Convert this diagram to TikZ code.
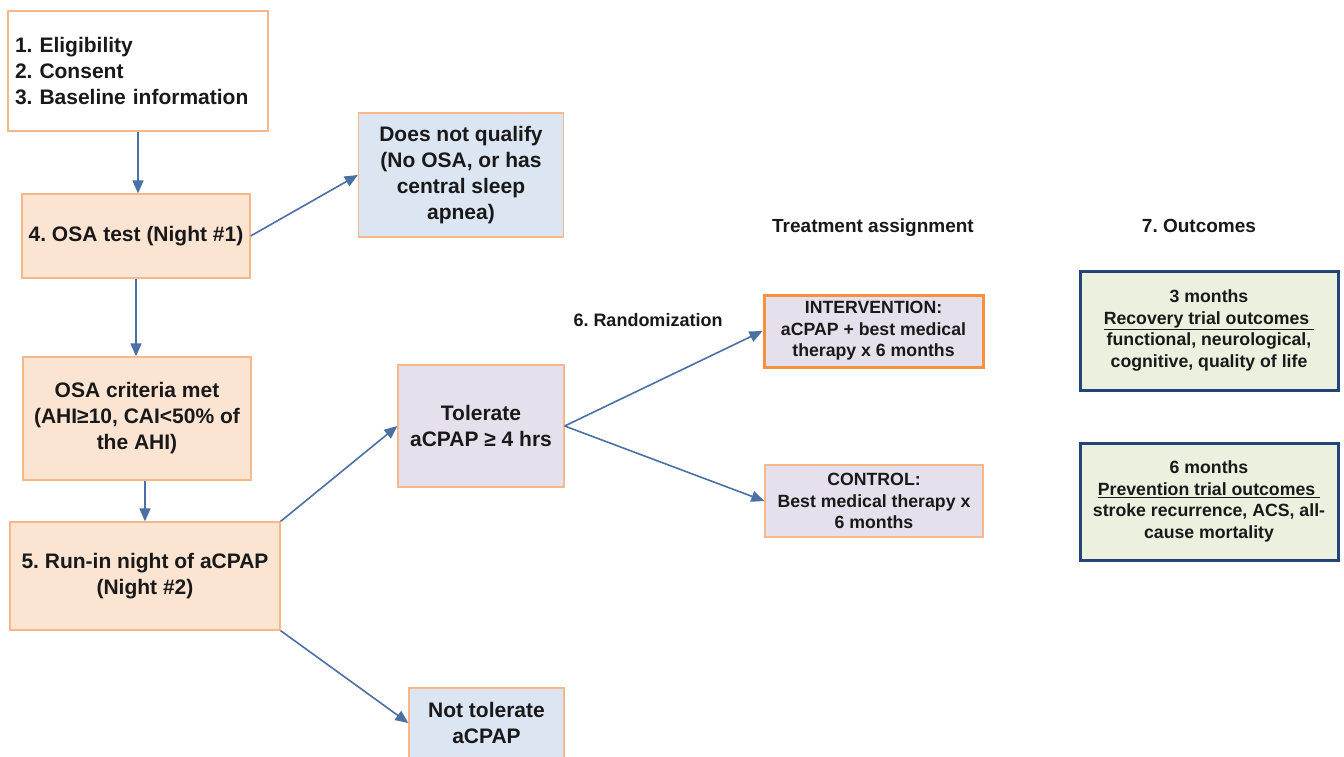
\documentclass[tikz,border=0pt]{standalone}
\usepackage{fontspec}
\setmainfont{Liberation Sans}
\usetikzlibrary{arrows.meta}
\definecolor{boxline}{RGB}{246,184,138}
\definecolor{peach}{RGB}{252,228,210}
\definecolor{paleblue}{RGB}{220,230,242}
\definecolor{lavend}{RGB}{229,224,236}
\definecolor{intline}{RGB}{246,146,62}
\definecolor{palegreen}{RGB}{235,241,222}
\definecolor{navy}{RGB}{36,68,118}
\definecolor{arrowc}{RGB}{74,112,165}
\definecolor{txt}{RGB}{25,25,25}
\newcommand{\mybig}{\fontsize{21}{26}\selectfont\bfseries}
\newcommand{\mysmall}{\fontsize{17.7}{21.5}\selectfont\bfseries}
\newcommand{\mytitle}{\fontsize{19}{22}\selectfont\bfseries}
\frenchspacing
\begin{document}
\frenchspacing
\begin{tikzpicture}[x=1pt,y=-1pt,
  box/.style={draw=boxline, line width=1.3pt, inner sep=0pt, align=center, font=\mybig, text=txt},
  sbox/.style={box, font=\mysmall},
  obox/.style={draw=navy, line width=3pt, fill=palegreen, inner sep=0pt, align=center, font=\mysmall, text=txt},
  ttl/.style={inner sep=0pt, text=txt},
  arr/.style={draw=arrowc, line width=1.6pt, -{Triangle[length=13pt,width=11pt]}}]
\useasboundingbox (0,0) rectangle (1344,756);
\clip (0,0) rectangle (1344,756);
\fill[white] (0,0) rectangle (1344,756);

% left column
\node[box, fill=white, minimum width=260pt, minimum height=120pt, text width=246pt, align=left] (b1) at (138,71)
  {1. Eligibility\\2. Consent\\3. Baseline information};
\node[box, fill=peach, minimum width=228pt, minimum height=84pt] (b4) at (136,236) {4. OSA test (Night \#1)};
\node[box, fill=paleblue, minimum width=205pt, minimum height=124pt] (dnq) at (461,175)
  {Does not qualify\\(No OSA, or has\\central sleep\\apnea)};
\node[box, fill=peach, minimum width=228pt, minimum height=123pt] (crit) at (137,418.5)
  {OSA criteria met\\(AHI≥10, CAI<50\% of\\the AHI)};
\node[box, fill=peach, minimum width=270pt, minimum height=108pt] (run) at (145,576)
  {5. Run-in night of aCPAP\\(Night \#2)};
\node[box, fill=lavend, minimum width=166pt, minimum height=122pt] (tol) at (481,426)
  {Tolerate\\aCPAP ≥ 4 hrs};
\node[box, fill=paleblue, minimum width=155pt, minimum height=70pt] (ntol) at (486.5,723)
  {Not tolerate\\aCPAP};

% treatment assignment
\node[ttl, font=\fontsize{18}{22}\selectfont\bfseries] (rand) at (648,320) {6. Randomization};
\node[ttl, font=\mytitle] (tass) at (873,228) {Treatment assignment};
\node[ttl, font=\mytitle] (outc) at (1199,226) {7. Outcomes};
\node[sbox, draw=intline, line width=3pt, fill=lavend, minimum width=219pt, minimum height=72pt] (int) at (873.5,331)
  {INTERVENTION:\\aCPAP + best medical\\therapy x 6 months};
\node[sbox, fill=lavend, minimum width=218pt, minimum height=72pt] (ctl) at (874,501)
  {CONTROL:\\Best medical therapy x\\6 months};

% outcomes
\node[obox, minimum width=258pt, minimum height=119pt] (o1) at (1209,330.5)
  {3 months\\\underline{Recovery trial outcomes\ }\\functional, neurological,\\cognitive, quality of life};
\node[obox, minimum width=258pt, minimum height=117pt] (o2) at (1209,501.5)
  {6 months\\\underline{Prevention trial outcomes\ }\\stroke recurrence, ACS, all-\\cause mortality};

% connectors
\draw[arr] (b1.south) -- (b1.south |- b4.north);
\draw[arr] (b4.south) -- (b4.south |- crit.north);
\draw[arr] (run.north |- crit.south) -- (run.north);
\draw[arr] (b4.east) -- (dnq.west);
\draw[arr] (run.north east) -- (tol.west);
\draw[arr] (run.south east) -- (ntol.west);
\draw[arr] (tol.east) -- (int.west);
\draw[arr] (tol.east) -- (ctl.west);
\end{tikzpicture}
\end{document}
